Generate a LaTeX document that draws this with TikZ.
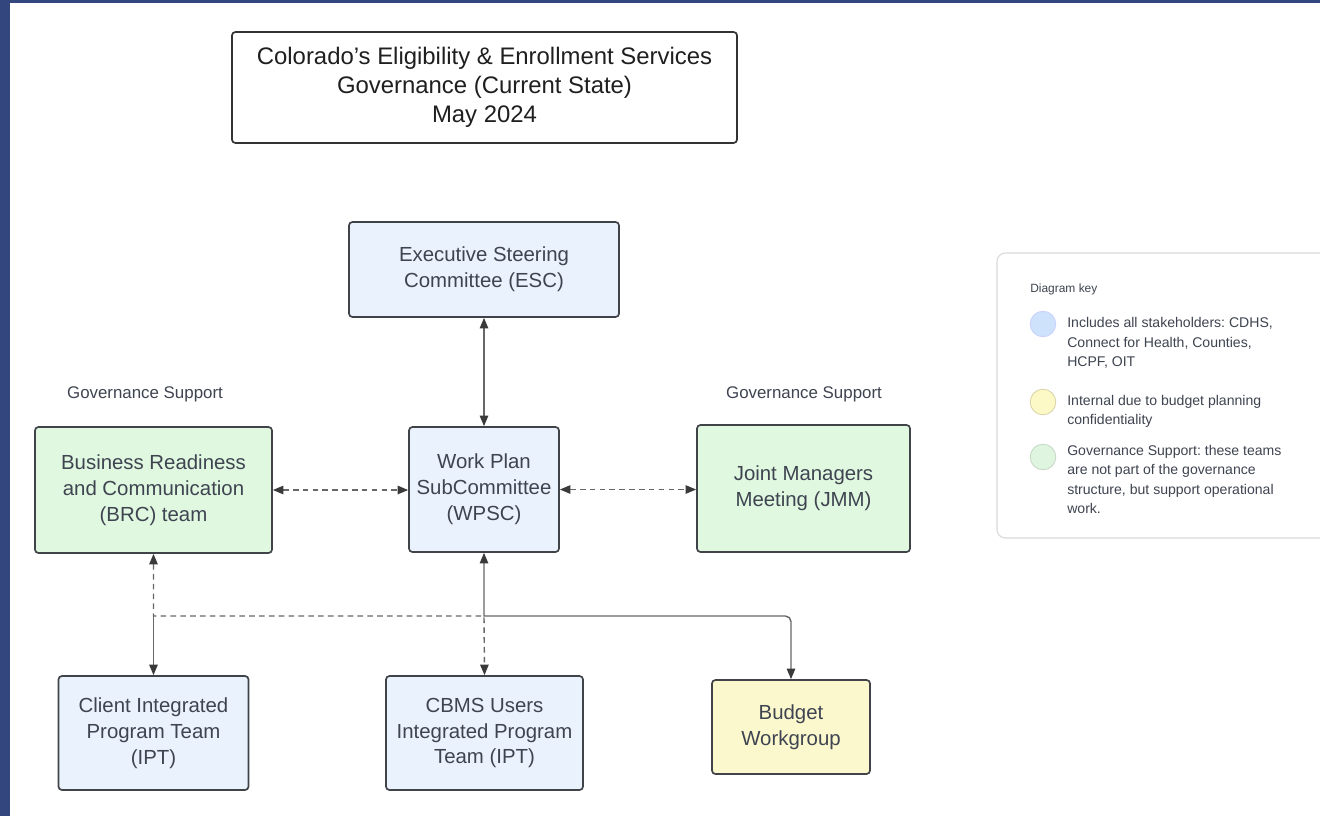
\documentclass[tikz,border=0pt]{standalone}
\usepackage{fontspec}
\setmainfont{Liberation Sans}
\usepackage{xcolor}
\usepackage{tikz}
\usetikzlibrary{arrows.meta,positioning,calc}
\frenchspacing

\definecolor{bgblue}{HTML}{34467E}
\definecolor{boxline}{HTML}{404348}
\definecolor{txtgray}{HTML}{3E4450}
\definecolor{linegray}{HTML}{676767}
\definecolor{tipgray}{HTML}{3A3A3A}
\definecolor{fillblue}{HTML}{EAF2FD}
\definecolor{fillgreen}{HTML}{E0F7E0}
\definecolor{fillyellow}{HTML}{FCF8CE}
\definecolor{keyblue}{HTML}{CFE2FB}
\definecolor{keyyellow}{HTML}{FDF9C6}
\definecolor{keygreen}{HTML}{E0F5E0}
\definecolor{keyline}{HTML}{DADADA}

\begin{document}
\begin{tikzpicture}[x=0.025cm,y=-0.025cm,
    govbox/.style={draw=boxline,line width=1.2pt,rounded corners=2.5pt,align=center,
        text=txtgray,inner sep=0pt,font=\fontsize{14.5}{18.4}\selectfont},
    bluebox/.style={govbox,fill=fillblue},
    greenbox/.style={govbox,fill=fillgreen},
    yellowbox/.style={govbox,fill=fillyellow},
    conn/.style={draw=linegray,line width=1pt,
        >={Triangle[length=7.5pt,width=6pt,color=tipgray]}},
    dashconn/.style={conn,dash pattern=on 4pt off 3pt},
    sidelbl/.style={text=txtgray,inner sep=0pt,font=\fontsize{12}{14}\selectfont},
    keytxt/.style={anchor=west,align=left,text=txtgray,inner sep=0pt,
        font=\fontsize{10}{13.8}\selectfont}]

        % Page with blue frame
        \useasboundingbox (0,0) rectangle (1320,816);
        \fill[bgblue] (0,0) rectangle (1320,816);
        \fill[white] (10,3) rectangle (1320,816);

        % Title
        \node[draw=black!80,line width=1.2pt,rounded corners=2.5pt,align=center,
            text=black!88,minimum width=12.625cm,minimum height=2.775cm,
            font=\fontsize{17}{20.6}\selectfont] (title) at (484.5,87.5)
            {Colorado's Eligibility \& Enrollment Services\\Governance (Current State)\\May 2024};

        % Governance bodies
        \node[bluebox,minimum width=6.75cm,minimum height=2.375cm] (esc) at (484,269.5)
            {Executive Steering\\Committee (ESC)};
        \node[bluebox,minimum width=3.75cm,minimum height=3.125cm] (wpsc) at (484,489.5)
            {Work Plan\\SubCommittee\\(WPSC)};
        \node[greenbox,minimum width=5.925cm,minimum height=3.15cm] (brc) at (153.5,490)
            {Business Readiness\\and Communication\\(BRC) team};
        \node[greenbox,minimum width=5.325cm,minimum height=3.175cm] (jmm) at (803.5,488.5)
            {Joint Managers\\Meeting (JMM)};
        \node[bluebox,minimum width=4.75cm,minimum height=2.85cm] (client) at (153.5,733)
            {Client Integrated\\Program Team\\(IPT)};
        \node[bluebox,minimum width=4.925cm,minimum height=2.85cm] (cbms) at (484.5,733)
            {CBMS Users\\Integrated Program\\Team (IPT)};
        \node[yellowbox,minimum width=3.95cm,minimum height=2.35cm] (budget) at (791,727)
            {Budget\\Workgroup};

        % Side labels
        \node[sidelbl] (lsup) at (145,394) {Governance Support};
        \node[sidelbl] (rsup) at (804,394) {Governance Support};

        % Connectors
        \coordinate (jm) at (wpsc.south |- 0,616);
        \coordinate (jl) at (brc.south |- jm);
        \draw[conn,<->] (esc.south) -- (wpsc.north);
        \draw[dashconn,<->] (brc.east) -- (brc.east -| wpsc.west);
        \draw[dashconn,<->] (wpsc.east) -- (wpsc.east -| jmm.west);
        \draw[conn,<->] (wpsc.south) -- (jm) [rounded corners=4pt] -| (budget.north);
        \draw[conn,->] (jl) -- (client.north);
        \draw[dashconn,<->] (brc.south) -- (jl) -- (jm) -- (cbms.north);

        % Diagram key
        \begin{scope}
            \clip (0,0) rectangle (1320,816);
            \draw[keyline,line width=0.8pt,rounded corners=6pt] (997,253) rectangle (1345,538);
        \end{scope}
        \node[keytxt,font=\fontsize{8.5}{10}\selectfont] (keyhead) at (1030,289) {Diagram key};
        \foreach \yy/\fc/\dc [count=\i] in {324/keyblue/keyblue!80!blue!60!white,
                402/keyyellow/keyyellow!85!black,457/keygreen/keygreen!88!black} {
            \node[circle,fill=\fc,draw=\dc,line width=0.6pt,minimum size=0.64cm,inner sep=0pt]
                (dot\i) at (1043,\yy) {};
        }
        \node[keytxt] (key1) at (1067,343)
            {Includes all stakeholders: CDHS,\\Connect for Health, Counties,\\HCPF, OIT};
        \node[keytxt] (key2) at (1067,411.5)
            {Internal due to budget planning\\confidentiality};
        \node[keytxt] (key3) at (1067,479.5)
            {Governance Support: these teams\\are not part of the governance\\structure, but support operational\\work.};
    \end{tikzpicture}
\end{document}
